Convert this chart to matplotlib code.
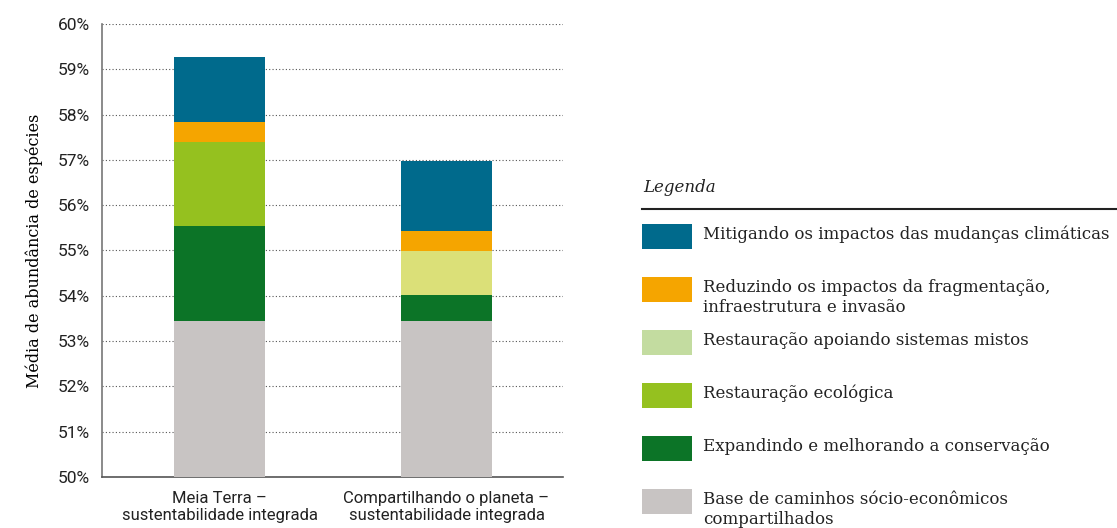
import numpy as np
from matplotlib import pyplot as plt
from matplotlib.patches import Rectangle

# Sans for ticks, serif for the legend and the axis label
sans = 'Roboto'
serif = 'DejaVu Serif'

# Data: stacked contributions (percentage points of mean species abundance)
scenarios = ['Meia Terra –\nsustentabilidade integrada',
             'Compartilhando o planeta –\nsustentabilidade integrada']
base = [53.44, 53.44]
conservacao = [2.09, 0.58]
restauracao_ecologica = [1.87, 0.0]
restauracao_mista = [0.0, 0.98]
fragmentacao = [0.44, 0.43]
clima = [1.43, 1.55]

legend_labels = ['Mitigando os impactos das mudanças climáticas',
                 'Reduzindo os impactos da fragmentação,\ninfraestrutura e invasão',
                 'Restauração apoiando sistemas mistos',
                 'Restauração ecológica',
                 'Expandindo e melhorando a conservação',
                 'Base de caminhos sócio-econômicos\ncompartilhados']

c_clima = '#006a8c'
c_frag = '#f5a500'
c_mista_bar = '#dbe078'
c_mista_leg = '#c3dca0'
c_eco = '#95c11f'
c_cons = '#0c7427'
c_base = '#c8c4c3'

fig = plt.figure(figsize=(11.17, 5.28), dpi=100)
ax = fig.add_axes([102 / 1117, 1 - 477 / 528, 461 / 1117, 453 / 528])

x = np.arange(len(scenarios))
w = 0.40
bottom = np.full(len(x), 50.0)
layers = [(np.array(base) - 50.0, c_base),
          (conservacao, c_cons),
          (restauracao_ecologica, c_eco),
          (restauracao_mista, c_mista_bar),
          (fragmentacao, c_frag),
          (clima, c_clima)]
for vals, col in layers:
    vals = np.asarray(vals, dtype=float)
    ax.bar(x, vals, w, bottom=bottom, color=col, linewidth=0, zorder=3)
    bottom = bottom + vals

ax.set_xlim(-0.5176, 1.513)
ax.set_ylim(50, 60)
ax.set_yticks(np.arange(50, 61, 1))
ax.set_yticklabels([f'{v}%' for v in range(50, 61)], fontfamily=sans, fontsize=12.5, color='#222222')
ax.set_xticks(x)
ax.set_xticklabels(scenarios, fontfamily=sans, fontsize=12, color='#222222', linespacing=1.2)
ax.tick_params(axis='y', length=0, pad=8.5)
ax.tick_params(axis='x', length=0, pad=10)
ax.grid(axis='y', linestyle=(0, (1, 2)), color='#555555', linewidth=0.8, zorder=0)
for s in ['top', 'right']:
    ax.spines[s].set_visible(False)
ax.spines['left'].set_color('#777777')
ax.spines['bottom'].set_color('#555555')
ax.spines['left'].set_linewidth(1.2)
ax.spines['bottom'].set_linewidth(1.2)
ax.set_ylabel('Média de abundância de espécies', fontfamily=serif, fontsize=11.5, labelpad=11)

# Legend drawn in pixel coordinates on an overlay axes
lg = fig.add_axes([0, 0, 1, 1])
lg.set_xlim(0, 1117)
lg.set_ylim(528, 0)
lg.axis('off')
lg.text(643, 192, 'Legenda', fontfamily=serif, fontstyle='italic', fontsize=12,
        va='baseline', ha='left', color='#222222')
lg.plot([642, 1117], [209, 209], color='#222222', linewidth=1.5)
leg_colors = [c_clima, c_frag, c_mista_leg, c_eco, c_cons, c_base]
for i, (lab, col) in enumerate(zip(legend_labels, leg_colors)):
    top = 224 + 53 * i
    lg.add_patch(Rectangle((642, top), 50, 25, facecolor=col, edgecolor='none'))
    for j, line in enumerate(lab.split('\n')):
        lg.text(703, top + 15 + 20 * j, line, fontfamily=serif, fontsize=12,
                va='baseline', ha='left', color='#222222')

fig.savefig('out.png', dpi=100)
